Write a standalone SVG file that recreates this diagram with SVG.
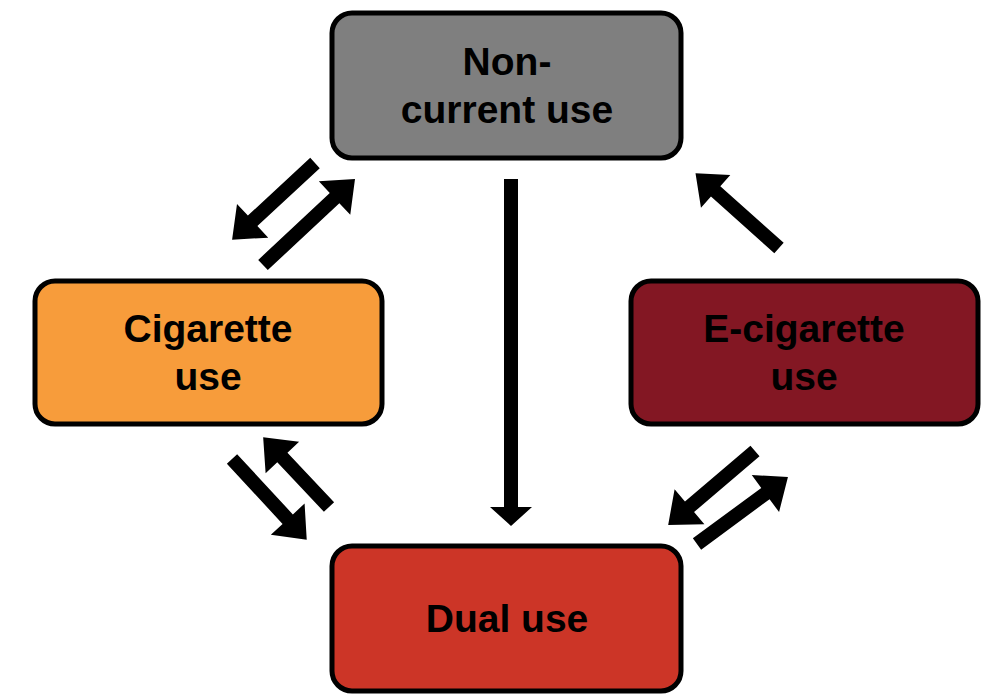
<svg xmlns="http://www.w3.org/2000/svg" width="1000" height="698" viewBox="0 0 1000 698">
<style>
.box{stroke:#000;stroke-width:5}
.lbl{font-family:"Liberation Sans",Arial,sans-serif;font-weight:700;font-size:39px;fill:#000;text-anchor:middle}
.arr{fill:#000}
</style>
<rect width="1000" height="698" fill="#fff"/>
<g id="connectors">
<path class="arr" d="M511,179 L518,179 L518,507 L532,507 L511,526 L490,507 L504,507 L504,179 Z"/>
<path class="arr" transform="translate(315,163) rotate(137.2)" d="M0,-7 L85,-7 L85,-23 L113,0 L85,23 L85,7 L0,7 Z"/>
<path class="arr" transform="translate(263,265) rotate(-43.1)" d="M0,-7 L98,-7 L98,-23 L126,0 L98,23 L98,7 L0,7 Z"/>
<path class="arr" transform="translate(232,459) rotate(47.2)" d="M0,-7 L82,-7 L82,-23 L110,0 L82,23 L82,7 L0,7 Z"/>
<path class="arr" transform="translate(329,507) rotate(-133.3)" d="M0,-7 L68,-7 L68,-23 L96,0 L68,23 L68,7 L0,7 Z"/>
<path class="arr" transform="translate(755,451) rotate(139.6)" d="M0,-7 L86,-7 L86,-23 L114,0 L86,23 L86,7 L0,7 Z"/>
<path class="arr" transform="translate(697,544) rotate(-36.4)" d="M0,-7 L85,-7 L85,-23 L113,0 L85,23 L85,7 L0,7 Z"/>
<path class="arr" transform="translate(779,248) rotate(-138.2)" d="M0,-7 L85,-7 L85,-22 L112,0 L85,22 L85,7 L0,7 Z"/>
</g>
<g id="noncurrent">
<rect class="box" x="332" y="13" width="349" height="145" rx="20" fill="#7f7f7f"/>
<text class="lbl" x="507" y="75">Non-</text>
<text class="lbl" x="507" y="123">current use</text>
</g>
<g id="cigarette">
<rect class="box" x="35" y="281" width="347" height="143" rx="20" fill="#f79c3b"/>
<text class="lbl" x="208" y="342">Cigarette</text>
<text class="lbl" x="208" y="390">use</text>
</g>
<g id="ecigarette">
<rect class="box" x="631" y="281" width="347" height="143" rx="20" fill="#831723"/>
<text class="lbl" x="804" y="342">E-cigarette</text>
<text class="lbl" x="804" y="390">use</text>
</g>
<g id="dual">
<rect class="box" x="332" y="546" width="349" height="145" rx="20" fill="#cc3527"/>
<text class="lbl" x="507" y="632">Dual use</text>
</g>
</svg>
